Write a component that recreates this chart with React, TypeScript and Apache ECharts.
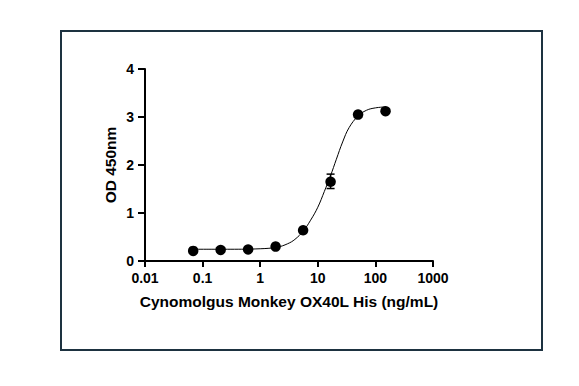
import React, { useEffect, useRef } from "react";
import * as echarts from "echarts";

// Measured concentrations (ng/mL) and OD 450nm values
const concentrations = [0.0686, 0.2058, 0.617, 1.852, 5.556, 16.67, 50, 150];
const odValues = [0.21, 0.23, 0.24, 0.3, 0.64, 1.65, 3.05, 3.12];
// Error bars: [x, low, high]
const errorBars: [number, number, number][] = [[16.67, 1.51, 1.81]];
// Fitted curve, points
const curveX = [0.0686, 0.3, 1, 2, 3, 4, 5.556, 7.5, 10, 13, 16.67, 21, 27, 35, 50, 70, 100, 150];
const curveY = [0.245, 0.245, 0.255, 0.29, 0.36, 0.45, 0.62, 0.85, 1.12, 1.45, 1.78, 2.12, 2.48, 2.78, 3.02, 3.14, 3.19, 3.21];
const xTickLabels = ["0.01", "0.1", "1", "10", "100", "1000"];
const yTickLabels = ["0", "1", "2", "3", "4"];

const FONT = "'Liberation Sans', Arial, sans-serif";

export default function App() {
  const ref = useRef<HTMLDivElement>(null);
  useEffect(() => {
    if (!ref.current) return;
    const chart = echarts.init(ref.current, null, { renderer: "svg" });
    chart.setOption({
      animation: false,
      backgroundColor: "#ffffff",
      graphic: [
        {
          type: "rect",
          shape: { x: 61, y: 31, width: 481, height: 319 },
          style: { fill: "none", stroke: "#1d3240", lineWidth: 2 },
          silent: true,
        },
      ],
      grid: { left: 145, right: 146, top: 69, bottom: 125, containLabel: false },
      xAxis: {
        type: "log",
        logBase: 10,
        min: 0.01,
        max: 1000,
        name: "Cynomolgus Monkey OX40L His (ng/mL)",
        nameLocation: "middle",
        nameGap: 32,
        nameTextStyle: { fontFamily: FONT, fontWeight: "bold", fontSize: 15.5, color: "#000" },
        axisLine: { show: true, onZero: false, lineStyle: { color: "#000", width: 2 } },
        axisTick: { show: true, length: 6, lineStyle: { color: "#000", width: 2 } },
        minorTick: { show: false },
        splitLine: { show: false },
        axisLabel: {
          margin: 10,
          fontFamily: FONT,
          fontWeight: "bold",
          fontSize: 14,
          color: "#000",
          formatter: (v: number) => xTickLabels[Math.round(Math.log10(v)) + 2] ?? "",
        },
      },
      yAxis: {
        type: "value",
        min: 0,
        max: 4,
        interval: 1,
        name: "OD 450nm",
        nameLocation: "middle",
        nameGap: 27,
        nameTextStyle: { fontFamily: FONT, fontWeight: "bold", fontSize: 15.5, color: "#000" },
        axisLine: { show: true, lineStyle: { color: "#000", width: 2 } },
        axisTick: { show: true, length: 7, lineStyle: { color: "#000", width: 2 } },
        splitLine: { show: false },
        axisLabel: {
          margin: 11,
          fontFamily: FONT,
          fontWeight: "bold",
          fontSize: 14,
          color: "#000",
          formatter: (v: number) => yTickLabels[Math.round(v)] ?? "",
        },
      },
      series: [
        {
          type: "line",
          data: curveX.map((x, i) => [x, curveY[i]]),
          smooth: 0.4,
          showSymbol: false,
          lineStyle: { color: "#000", width: 1 },
          z: 1,
        },
        {
          type: "custom",
          data: errorBars,
          z: 2,
          renderItem: (params: any, api: any) => {
            const x = api.value(0);
            const lo = api.coord([x, api.value(1)]);
            const hi = api.coord([x, api.value(2)]);
            const hw = 4;
            const style = { stroke: "#000", lineWidth: 1.5 };
            return {
              type: "group",
              children: [
                { type: "line", shape: { x1: lo[0], y1: lo[1], x2: hi[0], y2: hi[1] }, style },
                { type: "line", shape: { x1: lo[0] - hw, y1: lo[1], x2: lo[0] + hw, y2: lo[1] }, style },
                { type: "line", shape: { x1: hi[0] - hw, y1: hi[1], x2: hi[0] + hw, y2: hi[1] }, style },
              ],
            };
          },
        },
        {
          type: "scatter",
          data: concentrations.map((x, i) => [x, odValues[i]]),
          symbol: "circle",
          symbolSize: 10.5,
          itemStyle: { color: "#000", opacity: 1 },
          z: 3,
        },
      ],
    });
    return () => chart.dispose();
  }, []);
  return (
    <div
      ref={ref}
      style={{ position: "fixed", left: 0, top: 0, width: 579, height: 386 }}
    />
  );
}
